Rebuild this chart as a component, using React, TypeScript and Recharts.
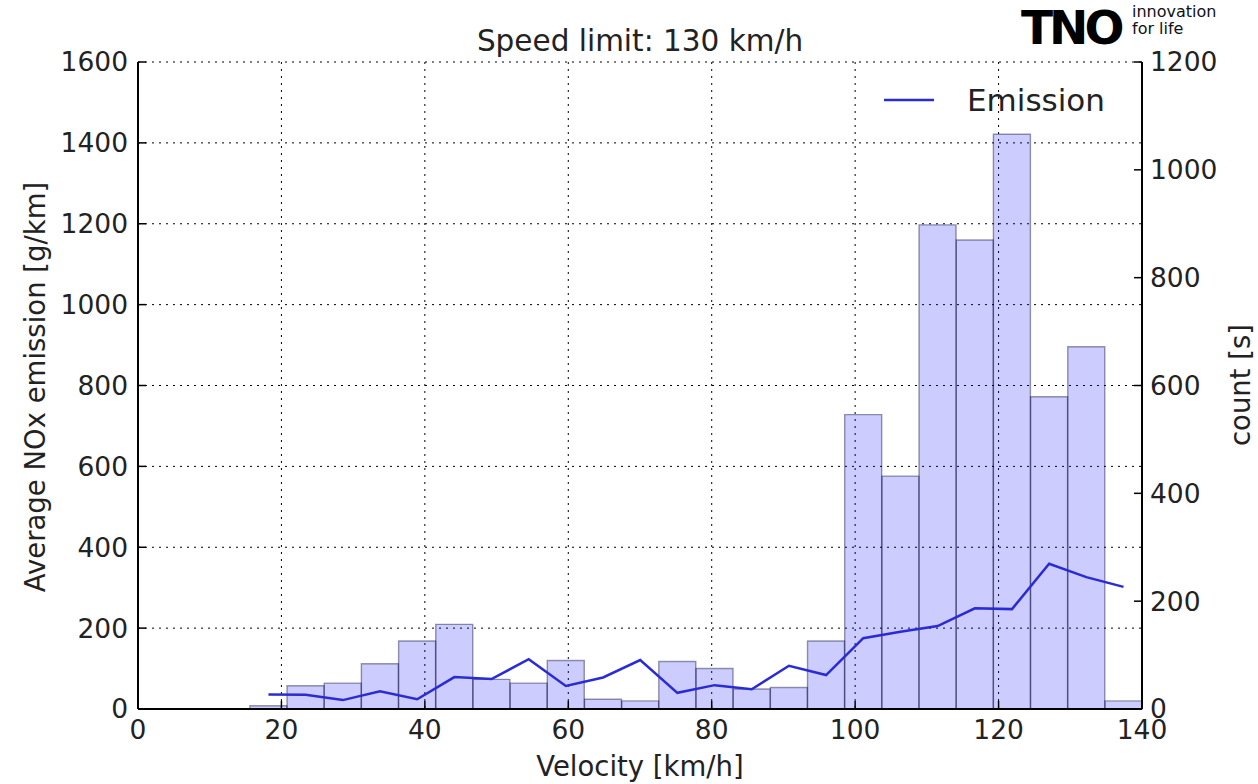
import {
  ComposedChart,
  Bar,
  Line,
  XAxis,
  YAxis,
  CartesianGrid,
  Legend,
} from "recharts";

// bin centres of the velocity histogram [km/h]
const velocity = [
  18.19, 23.37, 28.56, 33.74, 38.93, 44.11, 49.29, 54.48, 59.66, 64.85, 70.03,
  75.21, 80.4, 85.58, 90.77, 95.95, 101.13, 106.32, 111.5, 116.69, 121.87,
  127.05, 132.24, 137.42,
];

// time spent in each bin [s]
const counts = [
  6, 43, 48, 84, 126, 157, 55, 48, 90, 18, 15, 88, 75, 37, 40, 126, 546, 432,
  898, 870, 1066, 579, 672, 15,
];

// average NOx emission per bin [g/km]
const emission = [
  36, 35, 22, 44, 24, 79, 74, 123, 57, 78, 121, 40, 59, 49, 107, 84, 175, 191,
  205, 249, 247, 359, 326, 302,
];

const xTicks = [0, 20, 40, 60, 80, 100, 120, 140];
const leftTicks = [0, 200, 400, 600, 800, 1000, 1200, 1400, 1600];
const rightTicks = [0, 200, 400, 600, 800, 1000, 1200];

const rows = velocity.map((v, i) => ({
  v,
  count: counts[i],
  emission: emission[i],
}));

const FONT = "'DejaVu Sans', sans-serif";
const TXT = "#222";
const tickStyle = { fontSize: 26.5, fill: TXT, fontFamily: FONT };

const renderLegend = () => (
  <div style={{ display: "flex", alignItems: "center", fontFamily: FONT }}>
    <svg width={52} height={10}>
      <line x1={0} y1={5} x2={50} y2={5} stroke="#2b2bd6" strokeWidth={2.5} />
    </svg>
    <span style={{ fontSize: 31, color: TXT, marginLeft: 31 }}>Emission</span>
  </div>
);

export default function App() {
  return (
    <div
      style={{
        position: "absolute",
        left: 0,
        top: 0,
        width: 1258,
        height: 784,
        background: "#fff",
        fontFamily: FONT,
        overflow: "hidden",
      }}
    >
      <ComposedChart
        width={1258}
        height={784}
        data={rows}
        margin={{ top: 62, right: 56, left: 78, bottom: 35 }}
        barCategoryGap={0}
        barGap={0}
      >
        <CartesianGrid
          yAxisId="left"
          stroke="#000"
          strokeDasharray="2 5"
          strokeWidth={1}
        />
        <XAxis
          dataKey="v"
          type="number"
          domain={[0, 140]}
          ticks={xTicks}
          interval={0}
          height={40}
          tickSize={-8}
          tickMargin={19}
          tick={tickStyle}
          axisLine={{ stroke: "#000", strokeWidth: 2 }}
          tickLine={{ stroke: "#000", strokeWidth: 1.5 }}
        />
        <XAxis
          xAxisId="top"
          orientation="top"
          type="number"
          domain={[0, 140]}
          ticks={xTicks}
          height={0}
          tickSize={-8}
          tick={() => <g />}
          axisLine={{ stroke: "#000", strokeWidth: 2 }}
          tickLine={{ stroke: "#000", strokeWidth: 1.5 }}
        />
        <YAxis
          yAxisId="left"
          domain={[0, 1600]}
          ticks={leftTicks}
          interval={0}
          width={60}
          tickSize={-8}
          tickMargin={18}
          tick={tickStyle}
          axisLine={{ stroke: "#000", strokeWidth: 2 }}
          tickLine={{ stroke: "#000", strokeWidth: 1.5 }}
        />
        <YAxis
          yAxisId="right"
          orientation="right"
          domain={[0, 1200]}
          ticks={rightTicks}
          interval={0}
          width={60}
          tickSize={-8}
          tickMargin={16}
          tick={{ ...tickStyle, textAnchor: "start" }}
          axisLine={{ stroke: "#000", strokeWidth: 2 }}
          tickLine={{ stroke: "#000", strokeWidth: 1.5 }}
        />
        <Bar
          yAxisId="right"
          dataKey="count"
          fill="#0000ff"
          fillOpacity={0.2}
          stroke="#000033"
          strokeOpacity={0.4}
          strokeWidth={1.4}
          legendType="none"
          isAnimationActive={false}
        />
        <Line
          yAxisId="left"
          dataKey="emission"
          name="Emission"
          type="linear"
          stroke="#2b2bd6"
          strokeWidth={2.5}
          dot={false}
          activeDot={false}
          isAnimationActive={false}
        />
        <Legend
          content={renderLegend}
          layout="horizontal"
          verticalAlign="middle"
          align="center"
          wrapperStyle={{ top: 82, left: 884, width: 260, height: 44 }}
        />
      </ComposedChart>

      <div
        style={{
          position: "absolute",
          top: 24,
          left: 0,
          width: 1280,
          textAlign: "center",
          fontSize: 29.5,
          color: TXT,
        }}
      >
        Speed limit: 130 km/h
      </div>
      <div
        style={{
          position: "absolute",
          left: 0,
          top: 750,
          width: 1280,
          textAlign: "center",
          fontSize: 27.5,
          color: TXT,
        }}
      >
        Velocity [km/h]
      </div>
      <div
        style={{
          position: "absolute",
          left: 35,
          top: 387,
          transform: "translate(-50%, -50%) rotate(-90deg)",
          whiteSpace: "nowrap",
          fontSize: 27.5,
          color: TXT,
        }}
      >
        Average NOx emission [g/km]
      </div>
      <div
        style={{
          position: "absolute",
          left: 1240,
          top: 385,
          transform: "translate(-50%, -50%) rotate(-90deg)",
          whiteSpace: "nowrap",
          fontSize: 27.5,
          color: TXT,
        }}
      >
        count [s]
      </div>

      {/* TNO logo */}
      <div
        style={{
          position: "absolute",
          left: 1021,
          top: 0,
          fontSize: 47,
          fontWeight: 900,
          letterSpacing: -4,
          color: "#000",
          lineHeight: "56px",
        }}
      >
        TNO
      </div>
      <div
        style={{
          position: "absolute",
          left: 1132,
          top: 3,
          fontSize: 16,
          lineHeight: "17px",
          color: "#111",
        }}
      >
        innovation
        <br />
        for life
      </div>
    </div>
  );
}
